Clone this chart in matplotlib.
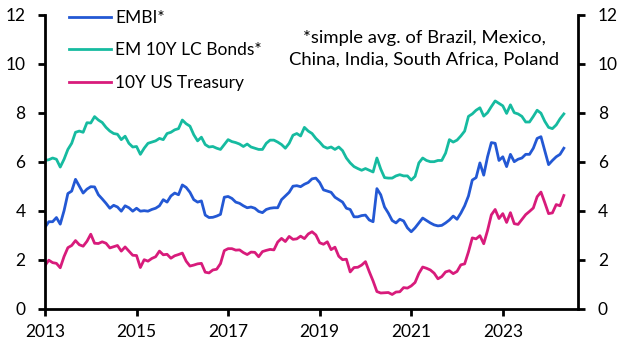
import matplotlib
matplotlib.use("Agg")
import matplotlib.pyplot as plt
import numpy as np

plt.rcParams['font.family'] = ['Lato', 'DejaVu Sans']

# month-end readings, Dec 2012 .. Apr 2024
start_year = 2013
embi = [
    3.32, 3.55, 3.55, 3.72, 3.45, 4.0, 4.7, 4.8, 5.28, 5.0, 4.72, 4.88, 4.98,
    4.97, 4.65, 4.48, 4.3, 4.1, 4.22, 4.15, 3.98, 4.2, 4.12, 3.98, 4.1,
    3.98, 4.0, 3.98, 4.05, 4.1, 4.2, 4.45, 4.35, 4.6, 4.72, 4.65, 5.05,
    4.95, 4.75, 4.45, 4.35, 4.4, 3.82, 3.72, 3.73, 3.78, 3.85, 4.55, 4.58, 4.5,
    4.35, 4.3, 4.2, 4.12, 4.15, 4.1, 3.97, 3.92, 4.05, 4.1, 4.12, 4.12,
    4.45, 4.6, 4.75, 5.0, 5.02, 4.98, 5.08, 5.15, 5.3, 5.33, 5.15, 4.85,
    4.8, 4.75, 4.55, 4.45, 4.35, 4.1, 4.05, 3.75, 3.75, 3.8, 3.82, 3.62,
    3.55, 4.9, 4.65, 4.15, 3.9, 3.6, 3.5, 3.65, 3.58, 3.3, 3.14, 3.3,
    3.5, 3.7, 3.6, 3.5, 3.42, 3.38, 3.4, 3.5, 3.62, 3.78, 3.65, 3.9,
    4.2, 4.6, 5.25, 5.35, 5.95, 5.45, 6.2, 6.78, 6.75,
    6.05, 6.2, 5.8, 6.3, 6.0, 6.1, 6.15, 6.3, 6.3, 6.55, 6.95, 7.02,
    6.45, 5.88, 6.05, 6.2, 6.3, 6.55,
]
em_lc = [
    6.05, 6.08, 6.15, 6.1, 5.78, 6.1, 6.5, 6.75, 7.2, 7.25, 7.2, 7.59, 7.58,
    7.84, 7.7, 7.6, 7.4, 7.25, 7.15, 7.12, 6.9, 7.04, 6.75, 6.6, 6.62,
    6.3, 6.55, 6.75, 6.8, 6.85, 6.95, 6.9, 7.15, 7.2, 7.3, 7.35, 7.7,
    7.55, 7.45, 7.1, 6.85, 7.0, 6.7, 6.6, 6.62, 6.55, 6.5, 6.7, 6.9, 6.82,
    6.78, 6.72, 6.62, 6.72, 6.6, 6.55, 6.5, 6.5, 6.75, 6.88, 6.88, 6.8,
    6.7, 6.55, 6.75, 7.08, 7.15, 7.05, 7.4, 7.25, 7.15, 6.95, 6.8, 6.62,
    6.55, 6.6, 6.5, 6.6, 6.45, 6.15, 5.95, 5.8, 5.72, 5.65, 5.72, 5.65,
    5.58, 6.15, 5.7, 5.35, 5.33, 5.33, 5.42, 5.47, 5.42, 5.42, 5.25, 5.4,
    5.95, 6.15, 6.05, 6.0, 6.0, 6.05, 6.05, 6.35, 6.9, 6.8, 6.88, 7.05,
    7.25, 7.85, 7.95, 8.1, 8.2, 7.86,
    8.0, 8.25, 8.48, 8.38, 8.28, 7.97, 8.32, 8.0, 7.95, 7.85, 7.62, 7.62,
    7.85, 8.1, 7.98, 7.65, 7.4, 7.35, 7.5, 7.75, 7.95,
]
ust_10y = [
    1.76,
    1.98, 1.88, 1.85, 1.67, 2.13, 2.49, 2.58, 2.78, 2.61, 2.55, 2.75, 3.04,
    2.67, 2.66, 2.73, 2.67, 2.48, 2.53, 2.58, 2.35, 2.52, 2.35, 2.18, 2.17,
    1.68, 2.00, 1.94, 2.05, 2.12, 2.35, 2.20, 2.22, 2.06, 2.16, 2.21, 2.27,
    1.94, 1.74, 1.78, 1.83, 1.85, 1.49, 1.46, 1.58, 1.61, 1.84, 2.37, 2.45,
    2.45, 2.39, 2.40, 2.29, 2.21, 2.31, 2.30, 2.12, 2.33, 2.38, 2.42, 2.40,
    2.72, 2.87, 2.74, 2.95, 2.83, 2.85, 2.96, 2.86, 3.05, 3.14, 3.01, 2.69,
    2.63, 2.73, 2.41, 2.51, 2.14, 2.00, 2.02, 1.50, 1.68, 1.69, 1.78, 1.92,
    1.51, 1.13, 0.70, 0.64, 0.65, 0.66, 0.58, 0.68, 0.69, 0.86, 0.84, 0.93,
    1.07, 1.44, 1.70, 1.65, 1.58, 1.45, 1.22, 1.31, 1.50, 1.55, 1.43, 1.52,
    1.79, 1.83, 2.32, 2.89, 2.85, 2.98, 2.65, 3.19, 3.83, 4.05, 3.68, 3.88,
    3.52, 3.92, 3.47, 3.44, 3.64, 3.84, 3.97, 4.11, 4.57, 4.76, 4.33, 3.88,
    3.91, 4.25, 4.20, 4.62,
]
labels = ["EMBI*", "EM 10Y LC Bonds*", "10Y US Treasury"]
colors = ["#2358d4", "#16bba0", "#d81b7b"]
year_ticks = [2013, 2015, 2017, 2019, 2021, 2023]
y_ticks = [0, 2, 4, 6, 8, 10, 12]
note = "*simple avg. of Brazil, Mexico,\nChina, India, South Africa, Poland"

t = start_year + np.arange(len(ust_10y)) / 12

fig = plt.figure(figsize=(6.3, 3.54), dpi=100)
ax = fig.add_axes([0.0714, 0.128, 0.918 - 0.0714, 0.9585 - 0.128])

for series, lab, col in zip([embi, em_lc, ust_10y], labels, colors):
    ax.plot(t, series, color=col, lw=2.0, label=lab, solid_joinstyle='round')

ax.set_xlim(2013, 2024.65)
ax.set_ylim(0, 12)
ax.set_xticks(year_ticks)
ax.set_yticks(y_ticks)
ax.spines['top'].set_visible(False)
for s in ['left', 'right', 'bottom']:
    ax.spines[s].set_linewidth(2)
ax.tick_params(axis='both', direction='out', length=5, width=2,
               labelsize=12.5, colors='black')
ax.tick_params(axis='y', pad=9, right=True, labelright=True)
ax.tick_params(axis='x', pad=6)

ax.legend(loc='upper left', bbox_to_anchor=(69 / 630, 1 - 10 / 354),
          bbox_transform=fig.transFigure, frameon=False, fontsize=12.5,
          handlelength=2.4, handletextpad=0.25, labelspacing=0.95,
          borderpad=0, borderaxespad=0)

fig.text(424 / 630, 1 - 49 / 354, note, ha='center', va='center',
         fontsize=13.3, linespacing=1.42)

fig.savefig("out.png", dpi=100)
